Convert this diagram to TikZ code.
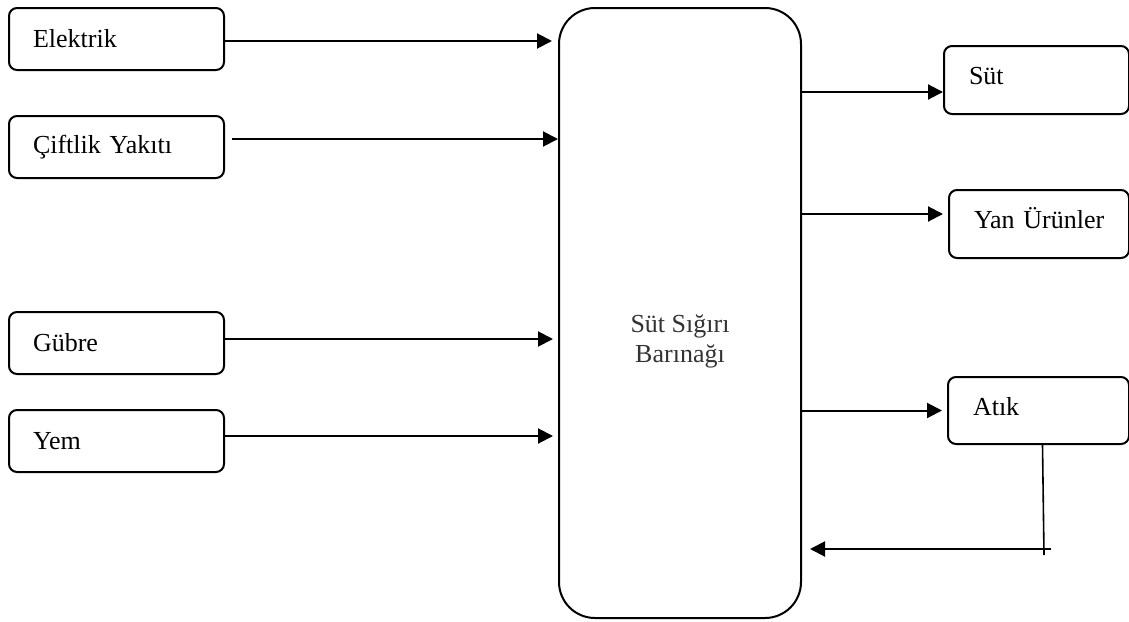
\documentclass[tikz,border=0pt]{standalone}
\usepackage{fontspec}
\setmainfont{Liberation Serif}
\usetikzlibrary{arrows.meta}

\begin{document}
\begin{tikzpicture}[x=0.5pt, y=-0.5pt,
    kutu/.style={draw, line width=1pt, rounded corners=4pt, anchor=north west,
        align=left, inner xsep=12pt, inner ysep=0pt, font=\fontsize{13}{15}\selectfont},
    girdi/.style={kutu, text width=83.5pt, minimum height=31pt},
    cikti/.style={kutu, inner xsep=12.5pt, text width=#1, minimum height=34pt,
        text height=9.5pt, text depth=5pt},
    ok/.style={line width=1pt, -{Triangle[length=7.5pt,width=7.5pt]}}]
    \useasboundingbox (0,0) rectangle (1129,621);

    \node[girdi] (elektrik) at (8,7) {Elektrik};
    \node[girdi] (yakit) at (8,115) {Çiftlik Yakıtı};
    \node[girdi] (gubre) at (8,311) {Gübre};
    \node[girdi] (yem) at (8,409) {Yem};

    \node[draw, line width=1pt, rounded corners=18pt, anchor=north west, inner sep=0pt,
        minimum width=121pt, minimum height=305pt,
        label={[font=\fontsize{13}{15}\selectfont, align=center, text=black!80, yshift=-14pt]center:Süt Sığırı\\Barınağı}]
        (barinak) at (558,7) {};

    \node[cikti=67.5pt] (sut) at (943,45) {Süt};
    \node[cikti=65pt] (yan) at (948,189) {\mbox{Yan Ürünler}};
    \node[cikti=65.5pt, minimum height=33.5pt] (atik) at (947,376) {Atık};

    \draw[ok, shorten >=3pt] ([yshift=-1pt]elektrik.east) -- ([yshift=-1pt]elektrik.east -| barinak.west);
    \draw[ok, shorten <=3.5pt] ([yshift=4pt]yakit.east) -- ([yshift=4pt]yakit.east -| barinak.west);
    \draw[ok, shorten >=2.5pt] ([yshift=2pt]gubre.east) -- ([yshift=2pt]gubre.east -| barinak.west);
    \draw[ok, shorten >=2.5pt] ([yshift=2.5pt]yem.east) -- ([yshift=2.5pt]yem.east -| barinak.west);

    \draw[ok] ([yshift=-6pt]sut.west -| barinak.east) -- ([yshift=-6pt]sut.west);
    \draw[ok, shorten >=2.5pt] ([yshift=5pt]yan.west -| barinak.east) -- ([yshift=5pt]yan.west);
    \draw[ok, shorten >=2.5pt] (atik.west -| barinak.east) -- (atik.west);

    \coordinate (atikalt) at (1044,555);
    \coordinate (donus) at (1051,549);
    \draw[line width=0.8pt] ([xshift=2pt]atik.south) -- (atikalt);
    \draw[ok, shorten >=4pt] (donus) -- (donus -| barinak.east);
\end{tikzpicture}
\end{document}
